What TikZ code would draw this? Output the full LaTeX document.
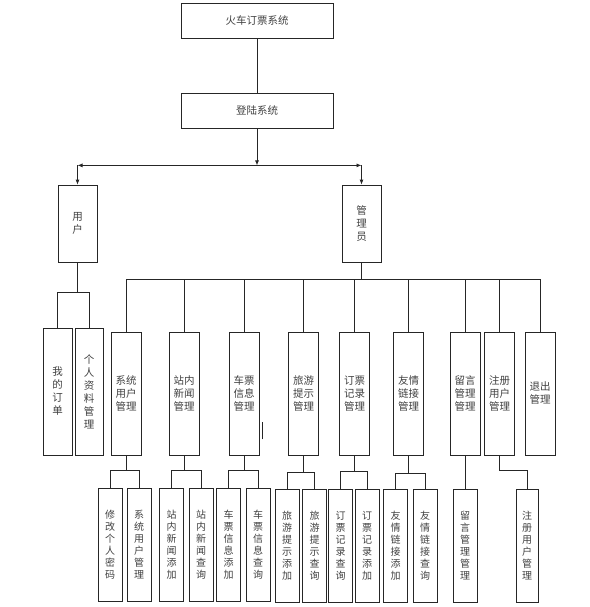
\documentclass[tikz,border=0pt]{standalone}
\usepackage{fontspec}
\newfontfamily\cjk{Noto Sans CJK SC}
\usetikzlibrary{arrows.meta, positioning}

\begin{document}
\begin{tikzpicture}[
  x=1pt, y=-1pt, line width=0.8pt,
  sysbox/.style={rectangle, draw=black!85, minimum width=152pt, minimum height=35pt, inner sep=0pt, font=\cjk\fontsize{10.5}{13}\selectfont, text=black!75},
  rolebox/.style={rectangle, draw=black!85, minimum width=39pt, minimum height=77pt, inner sep=0pt, align=center, font=\cjk\fontsize{10.5}{13}\selectfont, text=black!75},
  modbox/.style={rectangle, draw=black!85, minimum width=30pt, minimum height=123pt, inner sep=0pt, align=center, font=\cjk\fontsize{10.5}{13}\selectfont, text=black!75},
  leafbox/.style={rectangle, draw=black!85, minimum width=24pt, minimum height=113pt, inner sep=0pt, align=center, font=\cjk\fontsize{10}{12}\selectfont, text=black!75},
  link/.style={draw=black!85},
  arr/.style={draw=black!85, -{Latex[length=5pt,width=4pt]}},
  darr/.style={draw=black!85, {Latex[length=5pt,width=4pt]}-{Latex[length=5pt,width=4pt]}}
]
  \useasboundingbox (0,0) rectangle (589,607);

  \node[sysbox] (train) at (257,20.5) {火车订票系统};
  \node[sysbox] (login) at (257,110.5) {登陆系统};

  \node[rolebox] (user) at (77.5,223.5) {用\\户};
  \node[rolebox] (admin) at (361.5,223.5) {管\\理\\员};

  \node[modbox, minimum width=29pt, minimum height=127pt] (order) at (57.5,391.5) {我\\的\\订\\单};
  \node[modbox, minimum width=28pt, minimum height=127pt] (profile) at (89,391.5) {个\\人\\资\\料\\管\\理};

  \node[modbox] (m1) at (126,393.5) {系统\\用户\\管理};
  \node[modbox] (m2) at (184,393.5) {站内\\新闻\\管理};
  \node[modbox] (m3) at (244,393.5) {车票\\信息\\管理};
  \node[modbox] (m4) at (303.5,393.5) {旅游\\提示\\管理};
  \node[modbox] (m5) at (354.5,393.5) {订票\\记录\\管理};
  \node[modbox] (m6) at (408.5,393.5) {友情\\链接\\管理};
  \node[modbox] (m7) at (465,393.5) {留言\\管理\\管理};
  \node[modbox] (m8) at (499.5,393.5) {注册\\用户\\管理};
  \node[modbox] (m9) at (540,393.5) {退出\\管理};

  \node[leafbox] (c1) at (110,545) {修\\改\\个\\人\\密\\码};
  \node[leafbox] (c2) at (139,545) {系\\统\\用\\户\\管\\理};
  \node[leafbox] (c3) at (171.5,545) {站\\内\\新\\闻\\添\\加};
  \node[leafbox] (c4) at (201,545) {站\\内\\新\\闻\\查\\询};
  \node[leafbox] (c5) at (228.5,545) {车\\票\\信\\息\\添\\加};
  \node[leafbox] (c6) at (258,545) {车\\票\\信\\息\\查\\询};
  \node[leafbox] (c7) at (287,546) {旅\\游\\提\\示\\添\\加};
  \node[leafbox] (c8) at (314.5,546) {旅\\游\\提\\示\\查\\询};
  \node[leafbox] (c9) at (340.5,546) {订\\票\\记\\录\\查\\询};
  \node[leafbox] (c10) at (367,546) {订\\票\\记\\录\\添\\加};
  \node[leafbox] (c11) at (395.5,546) {友\\情\\链\\接\\添\\加};
  \node[leafbox] (c12) at (425,546) {友\\情\\链\\接\\查\\询};
  \node[leafbox] (c13) at (465,546) {留\\言\\管\\理\\管\\理};
  \node[leafbox, minimum width=22pt] (c14) at (527,546) {注\\册\\用\\户\\管\\理};

  \draw[link] (train.south) -- (login.north);
  \draw[arr] (login.south) -- ++(0,37) coordinate (split);
  \draw[darr] (split -| user.north) -- (split -| admin.north);
  \draw[arr] (split -| user.north) -- (user.north);
  \draw[arr] (split -| admin.north) -- (admin.north);

  \draw[link] (user.south) -- ++(0,30) coordinate (ubus);
  \draw[link] (ubus) -| (order.north);
  \draw[link] (ubus) -| (profile.north);

  \draw[link] (admin.south) -- ++(0,17) coordinate (abus);
  \draw[link] (abus) -| (m1.north);
  \draw[link] (abus) -| (m2.north);
  \draw[link] (abus) -| (m3.north);
  \draw[link] (abus) -| (m4.north);
  \draw[link] (abus) -| (m5.north);
  \draw[link] (abus) -| (m6.north);
  \draw[link] (abus) -| (m7.north);
  \draw[link] (abus) -| (m8.north);
  \draw[link] (abus) -| (m9.north);

  \draw[link] (m1.south) -- ++(0,15) coordinate (j1);
  \draw[link] (j1) -| (c1.north);
  \draw[link] (j1) -| (c2.north);
  \draw[link] (m2.south) -- ++(0,15) coordinate (j2);
  \draw[link] (j2) -| (c3.north);
  \draw[link] (j2) -| (c4.north);
  \draw[link] (m3.south) -- ++(0,15) coordinate (j3);
  \draw[link] (j3) -| (c5.north);
  \draw[link] (j3) -| (c6.north);
  \draw[link] (m4.south) -- ++(0,17) coordinate (j4);
  \draw[link] (j4) -| (c7.north);
  \draw[link] (j4) -| (c8.north);
  \draw[link] (m5.south) -- ++(0,16) coordinate (j5);
  \draw[link] (j5) -| (c9.north);
  \draw[link] (j5) -| (c10.north);
  \draw[link] (m6.south) -- ++(0,18) coordinate (j6);
  \draw[link] (j6) -| (c11.north);
  \draw[link] (j6) -| (c12.north);
  \draw[link] (m7.south) -- (c13.north);
  \draw[link] (m8.south) -- ++(0,15) -| (c14.north);

  \draw[link] ([xshift=3pt, yshift=16pt]m3.south east) -- ++(0,-17);
\end{tikzpicture}
\end{document}
